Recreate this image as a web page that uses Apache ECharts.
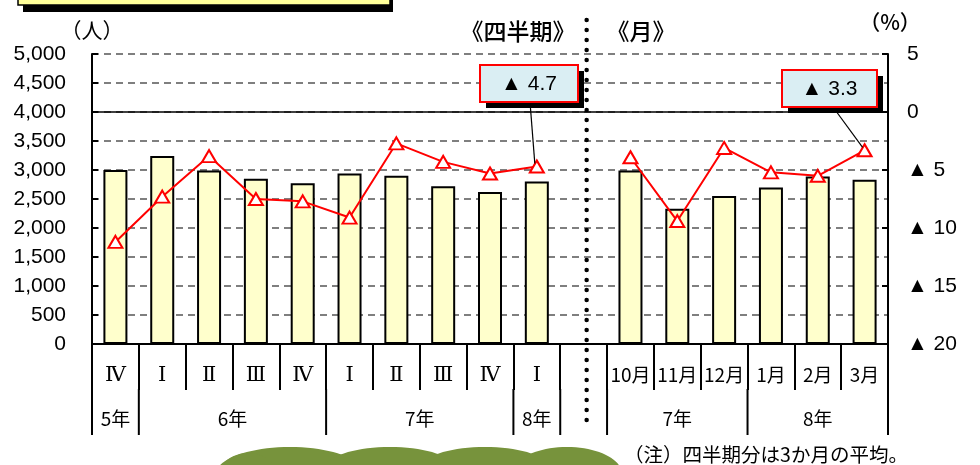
<!DOCTYPE html>
<html>
<head>
<meta charset="utf-8">
<script src="https://cdn.jsdelivr.net/npm/echarts@6/dist/echarts.min.js"></script>
<style>
html,body{margin:0;padding:0;background:#fff;}
#main{width:980px;height:465px;}
</style>
</head>
<body>
<div id="main"></div>
<script>
// ---- data ----
const categories = ['Ⅳ','Ⅰ','Ⅱ','Ⅲ','Ⅳ','Ⅰ','Ⅱ','Ⅲ','Ⅳ','Ⅰ','','10月','11月','12月','1月','2月','3月'];
const persons = [3000,3240,2990,2850,2770,2940,2900,2720,2620,2800,null,2990,2330,2550,2700,2890,2830];
const changeRate = [-11.2,-7.3,-3.8,-7.5,-7.7,-9.1,-2.7,-4.3,-5.3,-4.7,null,-3.9,-9.4,-3.1,-5.2,-5.5,-3.3];
const yearGroups = [
  {label:'5年', from:0, to:0},
  {label:'6年', from:1, to:4},
  {label:'7年', from:5, to:8},
  {label:'8年', from:9, to:9},
  {label:'7年', from:11, to:13},
  {label:'8年', from:14, to:16}
];
const gapIndex = 10;
const calloutIndices = [9, 16];
const leftAxisRange = {min:0, max:5000, interval:500};
const rightAxisRange = {min:-20, max:5, interval:5};

const NUM_FONT = 'Liberation Sans, Arial, sans-serif';
const JP_FONT = '"Noto Sans CJK JP", sans-serif';

const chart = echarts.init(document.getElementById('main'));

const option = {
  animation: false,
  grid: {left: 92, right: 92, top: 54, bottom: 121, containLabel: false},
  xAxis: {
    type: 'category',
    data: categories,
    boundaryGap: true,
    axisLine: {show: true, lineStyle: {color: '#000', width: 2}},
    axisTick: {show: true, interval: 0, length: 46, lineStyle: {color: '#000', width: 2}},
    axisLabel: {
      interval: 0, margin: 21, color: '#000', fontSize: 19, fontFamily: JP_FONT,
      formatter: v => /^[ⅠⅡⅢⅣ]$/.test(v) ? '{r|' + v + '}' : v,
      rich: {r: {fontFamily: '"DejaVu Serif", serif', fontSize: 21, color: '#000'}}
    },
    splitLine: {show: false}
  },
  yAxis: [
    {
      type: 'value', min: leftAxisRange.min, max: leftAxisRange.max, interval: leftAxisRange.interval,
      position: 'left',
      axisLine: {show: true, lineStyle: {color: '#000', width: 2}},
      axisTick: {show: true, inside: true, length: 6, lineStyle: {color: '#000', width: 2}},
      axisLabel: {margin: 26, color: '#000', fontSize: 21, fontFamily: NUM_FONT,
        formatter: v => v.toLocaleString('en-US')},
      splitLine: {show: true, lineStyle: {color: '#7f7f7f', width: 1.8, type: [7, 5]}}
    },
    {
      type: 'value', min: rightAxisRange.min, max: rightAxisRange.max, interval: rightAxisRange.interval,
      position: 'right',
      axisLine: {show: true, lineStyle: {color: '#000', width: 2}},
      axisTick: {show: true, inside: true, length: 6, lineStyle: {color: '#000', width: 2}},
      axisLabel: {margin: 19, color: '#000', fontSize: 21, fontFamily: NUM_FONT,
        formatter: v => v < 0 ? '▲ ' + (-v) : String(v)},
      splitLine: {show: false}
    }
  ],
  series: [
    {
      type: 'bar', yAxisIndex: 0, data: persons, barWidth: 24,
      itemStyle: {color: '#ffffcc', borderColor: '#000', borderWidth: 2},
      z: 2
    },
    {
      type: 'line', yAxisIndex: 1, data: changeRate, connectNulls: false,
      symbol: 'emptyTriangle', symbolSize: [14, 12],
      lineStyle: {color: '#ff0000', width: 2},
      itemStyle: {color: '#ff0000', borderColor: '#ff0000', borderWidth: 1.5},
      z: 4,
      markLine: {
        silent: true, symbol: 'none', label: {show: false},
        lineStyle: {color: '#000', width: 1.5, type: 'solid'},
        data: [{yAxis: 0}]
      }
    }
  ]
};
chart.setOption(option);

// ---- helpers using the library's scales ----
const cx = i => chart.convertToPixel({xAxisIndex: 0}, i);
const step = cx(1) - cx(0);
const bound = i => cx(0) + (i - 0.5) * step;
const axisY = chart.convertToPixel({yAxisIndex: 0}, 0);
const row1Bottom = axisY + 46;
const row2Bottom = row1Bottom + 45;

const g = [];

// top yellow box (partially visible)
g.push({type: 'rect', shape: {x: 23, y: -40, width: 370, height: 52}, style: {fill: '#000'}, z: 1});
g.push({type: 'rect', shape: {x: 18, y: -40, width: 372, height: 45}, style: {fill: '#ffff99', stroke: '#000', lineWidth: 1.5}, z: 2});

// unit labels and section titles
g.push({type: 'text', x: 92, y: 30, style: {text: '（人）', font: '21px ' + JP_FONT, fill: '#000', align: 'center', verticalAlign: 'middle'}});
g.push({type: 'text', x: 518, y: 31, style: {text: '《四半期》', font: '500 23px ' + JP_FONT, fill: '#000', align: 'center', verticalAlign: 'middle'}});
g.push({type: 'text', x: 641, y: 31, style: {text: '《月》', font: '500 23px ' + JP_FONT, fill: '#000', align: 'center', verticalAlign: 'middle'}});
g.push({type: 'text', x: 890, y: 22, style: {text: '（%）', font: '500 21px ' + JP_FONT, fill: '#000', align: 'center', verticalAlign: 'middle'}});

// second row dividers
const row2Bounds = new Set();
yearGroups.forEach(gr => { row2Bounds.add(gr.from); row2Bounds.add(gr.to + 1); });
row2Bounds.forEach(b => {
  const x = bound(b);
  g.push({type: 'line', shape: {x1: x, y1: row1Bottom - 1, x2: x, y2: row2Bottom}, style: {stroke: '#000', lineWidth: 2}});
});
// year labels
yearGroups.forEach(gr => {
  const x = (bound(gr.from) + bound(gr.to + 1)) / 2;
  g.push({type: 'text', x: x, y: 419, style: {text: gr.label, font: '19px ' + JP_FONT, fill: '#000', align: 'center', verticalAlign: 'middle'}});
});

// dotted separator in the gap slot
const gx = cx(gapIndex) + 3;
g.push({type: 'line', shape: {x1: gx, y1: 20, x2: gx, y2: 426},
  style: {stroke: '#000', lineWidth: 4.5, lineCap: 'round', lineDash: [0, 10]}, z: 5});

// callouts
const boxes = [
  {x: 480, y: 65, w: 98, h: 37, ax: 530},
  {x: 782, y: 70, w: 95, h: 37, ax: 833}
];
calloutIndices.forEach((idx, k) => {
  const b = boxes[k];
  const p = chart.convertToPixel({seriesIndex: 1}, [idx, changeRate[idx]]);
  g.push({type: 'line', shape: {x1: b.ax, y1: b.y + b.h, x2: p[0] - 2, y2: p[1] - 3}, style: {stroke: '#000', lineWidth: 1.2}, z: 10});
  g.push({type: 'rect', shape: {x: b.x + 6, y: b.y + 6, width: b.w, height: b.h}, style: {fill: '#000'}, z: 10});
  g.push({type: 'rect', shape: {x: b.x, y: b.y, width: b.w, height: b.h}, style: {fill: '#daeef3', stroke: '#ff0000', lineWidth: 2}, z: 11});
  const v = changeRate[idx];
  g.push({type: 'text', x: b.x + b.w / 2, y: b.y + b.h / 2 + 1,
    style: {text: (v < 0 ? '▲ ' : '') + Math.abs(v).toFixed(1), font: '21px ' + NUM_FONT, fill: '#000', align: 'center', verticalAlign: 'middle'}, z: 12});
});

// note
g.push({type: 'text', x: 766, y: 455, style: {text: '（注）四半期分は3か月の平均。', font: '19.5px ' + JP_FONT, fill: '#000', align: 'center', verticalAlign: 'middle'}});

// green decorative shape at bottom
const green = '#77933c';
[[290, 474, 74, 27], [390, 471, 68, 24], [485, 471, 68, 24], [567, 474, 55, 27], [248, 478, 30, 25]].forEach(e => {
  g.push({type: 'ellipse', shape: {cx: e[0], cy: e[1], rx: e[2], ry: e[3]}, style: {fill: green}, z: 1});
});

chart.setOption({graphic: g});
</script>
</body>
</html>
